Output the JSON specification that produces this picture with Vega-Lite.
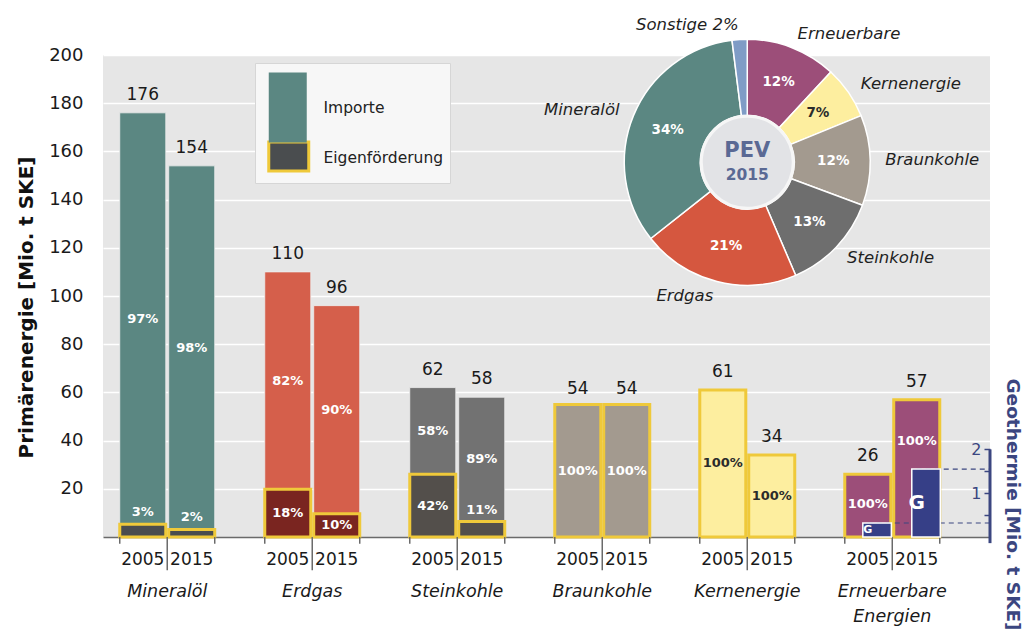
{
  "$schema": "https://vega.github.io/schema/vega-lite/v6.json",
  "width": 887,
  "height": 482,
  "autosize": {"type": "none"},
  "padding": {"left": 103, "top": 55, "right": 34, "bottom": 98},
  "background": "white",
  "config": {
    "font": "DejaVu Sans",
    "view": {"fill": "#e6e6e6", "stroke": null},
    "axis": {"labelFont": "DejaVu Sans", "titleFont": "DejaVu Sans"},
    "legend": {"labelFont": "DejaVu Sans", "titleFont": "DejaVu Sans"}
  },
  "datasets": {
    "bars": [
      {"cat": "Mineralöl", "year": "2005", "part": "Import", "value": 170.7, "total": 176, "pct": "97%"},
      {"cat": "Mineralöl", "year": "2015", "part": "Import", "value": 150.9, "total": 154, "pct": "98%"},
      {"cat": "Erdgas", "year": "2005", "part": "Import", "value": 90.2, "total": 110, "pct": "82%"},
      {"cat": "Erdgas", "year": "2015", "part": "Import", "value": 86.4, "total": 96, "pct": "90%"},
      {"cat": "Steinkohle", "year": "2005", "part": "Import", "value": 36, "total": 62, "pct": "58%"},
      {"cat": "Steinkohle", "year": "2015", "part": "Import", "value": 51.6, "total": 58, "pct": "89%"},
      {"cat": "Mineralöl", "year": "2005", "part": "Eigen", "value": 5.3, "total": 176, "pct": "3%"},
      {"cat": "Mineralöl", "year": "2015", "part": "Eigen", "value": 3.1, "total": 154, "pct": "2%"},
      {"cat": "Erdgas", "year": "2005", "part": "Eigen", "value": 19.8, "total": 110, "pct": "18%"},
      {"cat": "Erdgas", "year": "2015", "part": "Eigen", "value": 9.6, "total": 96, "pct": "10%"},
      {"cat": "Steinkohle", "year": "2005", "part": "Eigen", "value": 26, "total": 62, "pct": "42%"},
      {"cat": "Steinkohle", "year": "2015", "part": "Eigen", "value": 6.4, "total": 58, "pct": "11%"},
      {"cat": "Braunkohle", "year": "2005", "part": "Eigen", "value": 55, "total": 54, "pct": "100%"},
      {"cat": "Braunkohle", "year": "2015", "part": "Eigen", "value": 55, "total": 54, "pct": "100%"},
      {"cat": "Kernenergie", "year": "2005", "part": "Eigen", "value": 61, "total": 61, "pct": "100%"},
      {"cat": "Kernenergie", "year": "2015", "part": "Eigen", "value": 34, "total": 34, "pct": "100%"},
      {"cat": "Erneuerbare Energien", "year": "2005", "part": "Eigen", "value": 26, "total": 26, "pct": "100%", "geo": 0.32},
      {"cat": "Erneuerbare Energien", "year": "2015", "part": "Eigen", "value": 57, "total": 57, "pct": "100%", "geo": 1.55}
    ],
    "pie": [
      {"src": "Erneuerbare", "name": "Erneuerbare", "share": 12, "ord": 1, "pct": "12%"},
      {"src": "Kernenergie", "name": "Kernenergie", "share": 7, "ord": 2, "pct": "7%"},
      {"src": "Braunkohle", "name": "Braunkohle", "share": 12, "ord": 3, "pct": "12%"},
      {"src": "Steinkohle", "name": "Steinkohle", "share": 13, "ord": 4, "pct": "13%"},
      {"src": "Erdgas", "name": "Erdgas", "share": 21, "ord": 5, "pct": "21%"},
      {"src": "Mineralöl", "name": "Mineralöl", "share": 34, "ord": 6, "pct": "34%"},
      {"src": "Sonstige", "name": "Sonstige 2%", "share": 2, "ord": 7, "pct": ""}
    ]
  },
  "layer": [
    {
      "layer": [
        {
          "data": {"name": "bars"},
          "transform": [{"calculate": "datum.cat + '|' + datum.part", "as": "seg"}],
          "mark": {"type": "bar"},
          "encoding": {
            "x": {"field": "cat", "type": "nominal",
                  "scale": {"domain": ["Mineralöl", "Erdgas", "Steinkohle", "Braunkohle", "Kernenergie", "Erneuerbare Energien"], "paddingInner": 0.345, "paddingOuter": 0.231, "align": 0.25},
                  "axis": {"title": null, "ticks": false, "labels": false, "domain": true, "domainColor": "#6a6a6a", "domainWidth": 1.5, "grid": false}},
            "xOffset": {"field": "year", "type": "nominal", "scale": {"domain": ["2005", "2015"], "paddingInner": 0.06, "paddingOuter": 0}},
            "y": {"field": "value", "type": "quantitative", "stack": "zero",
                  "scale": {"domain": [0, 200], "nice": false},
                  "axis": {"title": "Primärenergie [Mio. t SKE]", "values": [20, 40, 60, 80, 100, 120, 140, 160, 180, 200], "grid": true, "gridColor": "white", "gridWidth": 1.5, "gridOpacity": 1, "ticks": false, "domain": false, "labelFontSize": 18, "labelColor": "#1a1a1a", "labelPadding": 20, "titleFontSize": 20, "titleFontWeight": "bold", "titleColor": "#111111", "titlePadding": 12, "titleY": 252}},
            "order": {"field": "part", "sort": "ascending"},
            "color": {"field": "seg", "type": "nominal", "legend": null,
                      "scale": {"domain": ["Mineralöl|Eigen", "Mineralöl|Import", "Erdgas|Eigen", "Erdgas|Import", "Steinkohle|Eigen", "Steinkohle|Import", "Braunkohle|Eigen", "Kernenergie|Eigen", "Erneuerbare Energien|Eigen"],
                                "range": ["#4a4d4f", "#5b8782", "#7a2520", "#d55f4b", "#534f4b", "#727272", "#a39a8f", "#fdee9f", "#9c4e79"]}},
            "stroke": {"condition": {"test": "datum.part == 'Eigen'", "value": "#efc93a"}, "value": "#eeeeee"},
            "strokeWidth": {"condition": {"test": "datum.part == 'Eigen'", "value": 3}, "value": 0.8}
          }
        },
        {
          "data": {"name": "bars"},
          "transform": [{"calculate": "datum.part == 'Import' ? datum.total - datum.value / 2 : (datum.geo > 0 ? datum.geo * 200 / 11 + (datum.total - datum.geo * 200 / 11) * 0.4 : (datum.value < 8 ? datum.value + 5 : datum.value / 2))", "as": "lab"}],
          "mark": {"type": "text", "fontWeight": "bold", "fontSize": 13, "baseline": "middle"},
          "encoding": {
            "x": {"field": "cat", "type": "nominal", "scale": {"domain": ["Mineralöl", "Erdgas", "Steinkohle", "Braunkohle", "Kernenergie", "Erneuerbare Energien"], "paddingInner": 0.345, "paddingOuter": 0.231, "align": 0.25}},
            "xOffset": {"field": "year", "type": "nominal", "scale": {"domain": ["2005", "2015"], "paddingInner": 0.06, "paddingOuter": 0}},
            "y": {"field": "lab", "type": "quantitative", "scale": {"domain": [0, 200], "nice": false}},
            "text": {"field": "pct"},
            "color": {"condition": {"test": "datum.cat == 'Kernenergie'", "value": "#2b2b2b"}, "value": "white"}
          }
        },
        {
          "data": {"name": "bars"},
          "transform": [{"filter": "datum.part == 'Eigen'"}],
          "mark": {"type": "text", "fontSize": 17, "baseline": "alphabetic", "dy": -13, "color": "#1a1a1a"},
          "encoding": {
            "x": {"field": "cat", "type": "nominal", "scale": {"domain": ["Mineralöl", "Erdgas", "Steinkohle", "Braunkohle", "Kernenergie", "Erneuerbare Energien"], "paddingInner": 0.345, "paddingOuter": 0.231, "align": 0.25}},
            "xOffset": {"field": "year", "type": "nominal", "scale": {"domain": ["2005", "2015"], "paddingInner": 0.06, "paddingOuter": 0}},
            "y": {"field": "total", "type": "quantitative", "scale": {"domain": [0, 200], "nice": false}},
            "text": {"field": "total"}
          }
        },
        {
          "data": {"name": "bars"},
          "transform": [{"filter": "datum.part == 'Eigen'"}],
          "mark": {"type": "text", "fontSize": 17, "baseline": "middle", "dy": 23, "color": "#1a1a1a"},
          "encoding": {
            "x": {"field": "cat", "type": "nominal", "scale": {"domain": ["Mineralöl", "Erdgas", "Steinkohle", "Braunkohle", "Kernenergie", "Erneuerbare Energien"], "paddingInner": 0.345, "paddingOuter": 0.231, "align": 0.25}},
            "xOffset": {"field": "year", "type": "nominal", "scale": {"domain": ["2005", "2015"], "paddingInner": 0.06, "paddingOuter": 0}},
            "y": {"datum": 0, "scale": {"domain": [0, 200], "nice": false}},
            "text": {"field": "year"}
          }
        },
        {
          "data": {"name": "bars"},
          "transform": [{"filter": "datum.part == 'Eigen' && datum.year == '2005'"}],
          "mark": {"type": "text", "fontSize": 17.5, "fontStyle": "italic", "baseline": "top", "dy": 46, "lineBreak": " ", "lineHeight": 25, "color": "#1a1a1a"},
          "encoding": {
            "x": {"field": "cat", "type": "nominal", "scale": {"domain": ["Mineralöl", "Erdgas", "Steinkohle", "Braunkohle", "Kernenergie", "Erneuerbare Energien"], "paddingInner": 0.345, "paddingOuter": 0.231, "align": 0.25}},
            "y": {"datum": 0, "scale": {"domain": [0, 200], "nice": false}},
            "text": {"field": "cat"}
          }
        },
        {
          "data": {"name": "bars"},
          "transform": [{"filter": "datum.part == 'Eigen' && datum.year == '2005'"}],
          "mark": {"type": "rule", "color": "#6a6a6a", "strokeWidth": 1.5},
          "encoding": {
            "x": {"field": "cat", "type": "nominal", "bandPosition": 0, "scale": {"domain": ["Mineralöl", "Erdgas", "Steinkohle", "Braunkohle", "Kernenergie", "Erneuerbare Energien"], "paddingInner": 0.345, "paddingOuter": 0.231, "align": 0.25}},
            "y": {"datum": 0, "scale": {"domain": [0, 200], "nice": false}},
            "y2": {"datum": -2.8}
          }
        },
        {
          "data": {"name": "bars"},
          "transform": [{"filter": "datum.part == 'Eigen' && datum.year == '2005'"}],
          "mark": {"type": "rule", "color": "#6a6a6a", "strokeWidth": 1.5},
          "encoding": {
            "x": {"field": "cat", "type": "nominal", "bandPosition": 1, "scale": {"domain": ["Mineralöl", "Erdgas", "Steinkohle", "Braunkohle", "Kernenergie", "Erneuerbare Energien"], "paddingInner": 0.345, "paddingOuter": 0.231, "align": 0.25}},
            "y": {"datum": 0, "scale": {"domain": [0, 200], "nice": false}},
            "y2": {"datum": -2.8}
          }
        },
        {
          "data": {"name": "bars"},
          "transform": [{"filter": "datum.part == 'Eigen' && datum.year == '2005'"}],
          "mark": {"type": "rule", "color": "#6a6a6a", "strokeWidth": 1.5},
          "encoding": {
            "x": {"field": "cat", "type": "nominal", "bandPosition": 0.5, "scale": {"domain": ["Mineralöl", "Erdgas", "Steinkohle", "Braunkohle", "Kernenergie", "Erneuerbare Energien"], "paddingInner": 0.345, "paddingOuter": 0.231, "align": 0.25}},
            "y": {"datum": 0, "scale": {"domain": [0, 200], "nice": false}},
            "y2": {"datum": -13.8}
          }
        },
        {
          "data": {"name": "pie"},
          "mark": {"type": "arc", "innerRadius": 47, "outerRadius": 123, "stroke": "white", "strokeWidth": 1.5},
          "encoding": {
            "x": {"datum": "Kernenergie", "type": "nominal", "scale": {"domain": ["Mineralöl", "Erdgas", "Steinkohle", "Braunkohle", "Kernenergie", "Erneuerbare Energien"], "paddingInner": 0.345, "paddingOuter": 0.231, "align": 0.25}},
            "y": {"datum": 155.5, "type": "quantitative", "scale": {"domain": [0, 200], "nice": false}},
            "theta": {"field": "share", "type": "quantitative", "stack": true},
            "order": {"field": "ord", "type": "quantitative"},
            "color": {"field": "src", "type": "nominal", "legend": null,
                      "scale": {"domain": ["Erneuerbare", "Kernenergie", "Braunkohle", "Steinkohle", "Erdgas", "Mineralöl", "Sonstige"],
                                "range": ["#9c4e79", "#fdee9f", "#a39a8f", "#6e6e6e", "#d5573f", "#5b8782", "#7f9cc6"]}}
          }
        },
        {
          "data": {"name": "pie"},
          "mark": {"type": "text", "radius": 86, "fontWeight": "bold", "fontSize": 13.5, "baseline": "middle"},
          "encoding": {
            "x": {"datum": "Kernenergie", "type": "nominal", "scale": {"domain": ["Mineralöl", "Erdgas", "Steinkohle", "Braunkohle", "Kernenergie", "Erneuerbare Energien"], "paddingInner": 0.345, "paddingOuter": 0.231, "align": 0.25}},
            "y": {"datum": 155.5, "type": "quantitative", "scale": {"domain": [0, 200], "nice": false}},
            "theta": {"field": "share", "type": "quantitative", "stack": true},
            "order": {"field": "ord", "type": "quantitative"},
            "text": {"field": "pct"},
            "color": {"condition": {"test": "datum.src == 'Kernenergie'", "value": "#2b2b2b"}, "value": "white"}
          }
        },
        {
          "data": {"name": "pie"},
          "mark": {"type": "text", "radius": 138, "fontStyle": "italic", "fontSize": 16.5, "baseline": "middle", "color": "#1f1f1f",
                   "align": {"expr": "(datum.share_start + datum.share_end) / 2 > 50.5 ? 'right' : 'left'"}},
          "encoding": {
            "x": {"datum": "Kernenergie", "type": "nominal", "scale": {"domain": ["Mineralöl", "Erdgas", "Steinkohle", "Braunkohle", "Kernenergie", "Erneuerbare Energien"], "paddingInner": 0.345, "paddingOuter": 0.231, "align": 0.25}},
            "y": {"datum": 155.5, "type": "quantitative", "scale": {"domain": [0, 200], "nice": false}},
            "theta": {"field": "share", "type": "quantitative", "stack": true},
            "order": {"field": "ord", "type": "quantitative"},
            "text": {"field": "name"}
          }
        },
        {
          "data": {"values": [{"c": "PEV"}]},
          "mark": {"type": "arc", "innerRadius": 0, "outerRadius": 46, "theta": 0, "theta2": 6.2832, "fill": "#e2e3e6", "stroke": "#f6f6f6", "strokeWidth": 3},
          "encoding": {
            "x": {"datum": "Kernenergie", "type": "nominal", "scale": {"domain": ["Mineralöl", "Erdgas", "Steinkohle", "Braunkohle", "Kernenergie", "Erneuerbare Energien"], "paddingInner": 0.345, "paddingOuter": 0.231, "align": 0.25}},
            "y": {"datum": 155.5, "type": "quantitative", "scale": {"domain": [0, 200], "nice": false}}
          }
        },
        {
          "data": {"values": [{"c": "PEV"}]},
          "mark": {"type": "text", "fontWeight": "bold", "fontSize": 21, "baseline": "middle", "dy": -11, "color": "#5a6994"},
          "encoding": {
            "x": {"datum": "Kernenergie", "type": "nominal", "scale": {"domain": ["Mineralöl", "Erdgas", "Steinkohle", "Braunkohle", "Kernenergie", "Erneuerbare Energien"], "paddingInner": 0.345, "paddingOuter": 0.231, "align": 0.25}},
            "y": {"datum": 155.5, "type": "quantitative", "scale": {"domain": [0, 200], "nice": false}},
            "text": {"field": "c"}
          }
        },
        {
          "data": {"values": [{"c": "2015"}]},
          "mark": {"type": "text", "fontWeight": "bold", "fontSize": 15.5, "baseline": "middle", "dy": 13, "color": "#5a6994"},
          "encoding": {
            "x": {"datum": "Kernenergie", "type": "nominal", "scale": {"domain": ["Mineralöl", "Erdgas", "Steinkohle", "Braunkohle", "Kernenergie", "Erneuerbare Energien"], "paddingInner": 0.345, "paddingOuter": 0.231, "align": 0.25}},
            "y": {"datum": 155.5, "type": "quantitative", "scale": {"domain": [0, 200], "nice": false}},
            "text": {"field": "c"}
          }
        },
        {
          "data": {"values": [{"part": "Eigenförderung"}]},
          "mark": {"type": "point", "filled": true, "opacity": 0},
          "encoding": {
            "x": {"datum": "Mineralöl", "type": "nominal", "scale": {"domain": ["Mineralöl", "Erdgas", "Steinkohle", "Braunkohle", "Kernenergie", "Erneuerbare Energien"], "paddingInner": 0.345, "paddingOuter": 0.231, "align": 0.25}},
            "y": {"datum": 0, "type": "quantitative", "scale": {"domain": [0, 200], "nice": false}},
            "color": {"field": "part", "type": "nominal",
                      "scale": {"domain": ["Eigenförderung"], "range": ["#4a4d4f"]},
                      "legend": {"orient": "none", "legendX": 152, "legendY": 8,
                                 "title": "Legende", "titleFontSize": 10, "titleOpacity": 0, "titlePadding": 69.75,
                                 "fillColor": "#f7f7f7", "strokeColor": "#d6d6d6", "padding": 6,
                                 "labelFontSize": 15.5, "labelColor": "#222222",
                                 "symbolSize": 100, "symbolOffset": 20, "labelOffset": 27,
                                 "symbolType": "M-4,-2.9H4V2.9H-4Z", "symbolStrokeWidth": 3, "symbolStrokeColor": "#efc93a",
                                 "encode": {
                                   "symbols": {"update": {"opacity": {"value": 1}, "fillOpacity": {"value": 1}, "stroke": {"value": "#efc93a"}}},
                                   "labels": {"update": {"dy": {"value": 1.5}}}
                                 }}}
          }
        },
        {
          "data": {"values": [{"part": "Importe"}]},
          "mark": {"type": "point", "filled": true, "opacity": 0},
          "encoding": {
            "x": {"datum": "Mineralöl", "type": "nominal", "scale": {"domain": ["Mineralöl", "Erdgas", "Steinkohle", "Braunkohle", "Kernenergie", "Erneuerbare Energien"], "paddingInner": 0.345, "paddingOuter": 0.231, "align": 0.25}},
            "y": {"datum": 0, "type": "quantitative", "scale": {"domain": [0, 200], "nice": false}},
            "color": {"field": "part", "type": "nominal",
                      "scale": {"domain": ["Importe"], "range": ["#5b8782"]},
                      "legend": {"orient": "none", "legendX": 160, "legendY": 44.75, "title": null,
                                 "padding": 0, "labelFontSize": 15.5, "labelColor": "#222222",
                                 "symbolSize": 100, "symbolOffset": 17, "labelOffset": 28,
                                 "symbolType": "M-3.8,-7H3.8V7H-3.8Z", "symbolStrokeWidth": 0,
                                 "encode": {
                                   "symbols": {"update": {"opacity": {"value": 1}, "fillOpacity": {"value": 1}}}
                                 }}}
          }
        }
      ],
      "resolve": {"scale": {"color": "independent"}}
    },
    {
      "layer": [
        {
          "data": {"name": "bars"},
          "transform": [{"filter": "datum.geo > 0 && datum.part == 'Eigen'"}],
          "mark": {"type": "rule", "strokeDash": [5, 4], "color": "#3b4680", "strokeWidth": 1.2},
          "encoding": {
            "x": {"field": "cat", "type": "nominal", "scale": {"domain": ["Mineralöl", "Erdgas", "Steinkohle", "Braunkohle", "Kernenergie", "Erneuerbare Energien"], "paddingInner": 0.345, "paddingOuter": 0.231, "align": 0.25}},
            "xOffset": {"field": "year", "type": "nominal", "scale": {"domain": ["2005", "2015"], "paddingInner": 0.06, "paddingOuter": 0}},
            "x2": {"value": "width"},
            "y": {"field": "geo", "type": "quantitative", "scale": {"domain": [0, 11], "nice": false},
                  "axis": {"orient": "left", "offset": -887, "values": [0.5, 1, 1.5, 2], "labelExpr": "datum.value % 1 == 0 ? datum.label : ''",
                           "domain": false, "grid": false, "tickColor": "#3b4680", "tickSize": 6, "tickWidth": 1.5,
                           "labelColor": "#3b4680", "labelFontSize": 16, "labelPadding": 3,
                           "title": "Geothermie [Mio. t SKE]", "titleAngle": 90, "titleX": 22, "titleY": 449,
                           "titleAlign": "center", "titleBaseline": "middle", "titleFontSize": 18.5, "titleFontWeight": "bold", "titleColor": "#3b4680"}}
          }
        },
        {
          "data": {"name": "bars"},
          "transform": [{"filter": "datum.geo > 0 && datum.part == 'Eigen'"}],
          "mark": {"type": "bar", "fill": "#363f87", "stroke": "white", "strokeWidth": 1.5, "width": {"band": 0.62}},
          "encoding": {
            "x": {"field": "cat", "type": "nominal", "scale": {"domain": ["Mineralöl", "Erdgas", "Steinkohle", "Braunkohle", "Kernenergie", "Erneuerbare Energien"], "paddingInner": 0.345, "paddingOuter": 0.231, "align": 0.25}},
            "xOffset": {"field": "year", "type": "nominal", "scale": {"domain": ["2005", "2015"], "paddingInner": 0.06, "paddingOuter": 0}},
            "y": {"field": "geo", "type": "quantitative", "scale": {"domain": [0, 11], "nice": false}}
          }
        },
        {
          "data": {"name": "bars"},
          "transform": [{"filter": "datum.geo > 0 && datum.part == 'Eigen'"}, {"calculate": "datum.geo / 2", "as": "gm"}],
          "mark": {"type": "text", "text": "G", "fontWeight": "bold", "baseline": "middle", "color": "white"},
          "encoding": {
            "x": {"field": "cat", "type": "nominal", "scale": {"domain": ["Mineralöl", "Erdgas", "Steinkohle", "Braunkohle", "Kernenergie", "Erneuerbare Energien"], "paddingInner": 0.345, "paddingOuter": 0.231, "align": 0.25}},
            "xOffset": {"field": "year", "type": "nominal", "scale": {"domain": ["2005", "2015"], "paddingInner": 0.06, "paddingOuter": 0}},
            "y": {"field": "gm", "type": "quantitative", "scale": {"domain": [0, 11], "nice": false}},
            "size": {"condition": {"test": "datum.geo > 1", "value": 20}, "value": 11}
          }
        },
        {
          "data": {"values": [{"c": 1}]},
          "mark": {"type": "rule", "color": "#3b4680", "strokeWidth": 3},
          "encoding": {
            "x": {"value": "width"},
            "y": {"datum": -0.14, "type": "quantitative", "scale": {"domain": [0, 11], "nice": false}},
            "y2": {"datum": 2}
          }
        }
      ]
    }
  ],
  "resolve": {"scale": {"y": "independent"}}
}
